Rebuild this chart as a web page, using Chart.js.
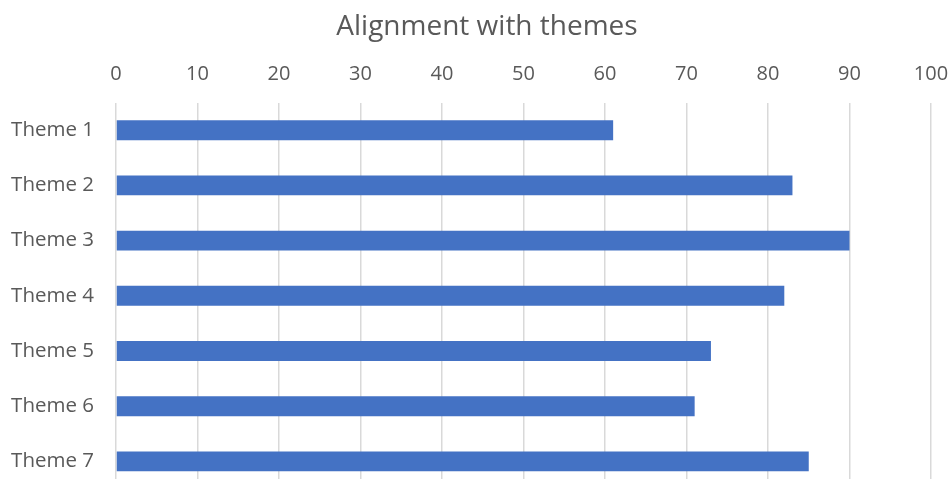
<!DOCTYPE html>
<html><head><meta charset="utf-8">
<script src="https://cdn.jsdelivr.net/npm/chart.js@4/dist/chart.umd.min.js"></script>
<style>
html,body{margin:0;padding:0;overflow:hidden;background:#fff;width:951px;height:479px;}
canvas{display:block;}
</style></head>
<body>
<canvas id="c" width="951" height="490"></canvas>
<script>
const categories = ["Theme 1","Theme 2","Theme 3","Theme 4","Theme 5","Theme 6","Theme 7"];
const values = [61, 83, 90, 82, 73, 71, 85];
const chartTitle = "Alignment with themes";
const xMin = 0, xMax = 100, xStep = 10;

// shift the title's horizontal span so it centres like the reference
const titleShift = {
  id: 'titleShift',
  afterLayout(chart) {
    const t = chart.titleBlock;
    if (t) { t.left = 43; t.right = chart.chartArea.right; }
  }
};

new Chart(document.getElementById('c'), {
  type: 'bar',
  data: {
    labels: categories,
    datasets: [{
      data: values,
      backgroundColor: '#4472C4',
      borderWidth: 0,
      categoryPercentage: 1,
      barPercentage: 0.36
    }]
  },
  options: {
    indexAxis: 'y',
    responsive: false,
    animation: false,
    layout: { padding: { left: 0, right: 20, top: 10, bottom: 1 } },
    plugins: {
      legend: { display: false },
      tooltip: { enabled: false },
      title: {
        display: true,
        text: chartTitle,
        color: '#595959',
        font: { family: 'Open Sans', size: 28, weight: 'normal' },
        padding: { top: 0, bottom: 3 }
      }
    },
    scales: {
      x: {
        position: 'top',
        min: xMin, max: xMax,
        ticks: { stepSize: xStep, color: '#595959', font: { family: 'Open Sans', size: 20 }, padding: 16 },
        grid: { color: '#d9d9d9', lineWidth: 1.5, drawTicks: false },
        border: { display: false },
        afterFit: (s) => { s.paddingLeft = 0; s.paddingRight = 0; }
      },
      y: {
        ticks: { color: '#595959', font: { family: 'Open Sans', size: 20.5 }, padding: 22 },
        grid: { display: false, drawTicks: false },
        border: { display: false },
        afterFit: (s) => { s.width = 116; s.paddingTop = 0; s.paddingBottom = 0; }
      }
    }
  },
  plugins: [titleShift]
});
</script>
</body></html>
